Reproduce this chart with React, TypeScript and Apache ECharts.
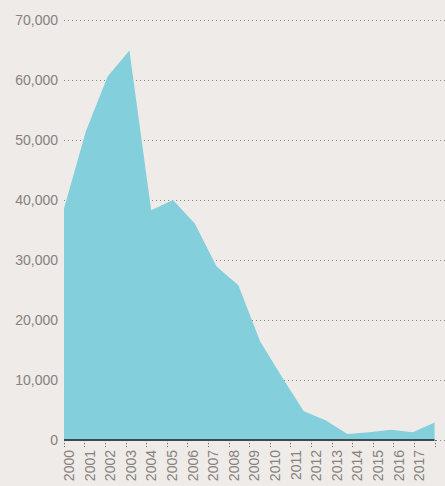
import React, { useEffect, useRef } from "react";
import * as echarts from "echarts";

const years = [2000, 2001, 2002, 2003, 2004, 2005, 2006, 2007, 2008, 2009, 2010, 2011, 2012, 2013, 2014, 2015, 2016, 2017];
const values = [38600, 51400, 60600, 64900, 38300, 40000, 36100, 28900, 25800, 16400, 10500, 4800, 3300, 1000, 1300, 1700, 1300, 2900];
const yTicks = [0, 10000, 20000, 30000, 40000, 50000, 60000, 70000];
const labelYears = years;

export default function App() {
  const ref = useRef<HTMLDivElement>(null);
  useEffect(() => {
    if (!ref.current) return;
    const chart = echarts.init(ref.current, null, { renderer: "svg" });
    const font = "'Liberation Sans', Arial, sans-serif";
    chart.setOption({
      animation: false,
      backgroundColor: "#efebe8",
      grid: { left: 64, right: 0, top: 20, bottom: 46, containLabel: false },
      xAxis: [
        {
          type: "value",
          min: 2000,
          max: 2017.48,
          show: false,
        },
        {
          type: "value",
          min: 2000,
          max: 2018.495,
          interval: 1,
          position: "bottom",
          axisLine: { show: true, lineStyle: { color: "rgba(0,0,0,0)" } },
          splitLine: { show: false },
          axisTick: {
            show: true,
            length: 7,
            lineStyle: { color: "#6a6765", width: 1, type: [1.2, 1.8] },
          },
          axisLabel: {
            show: true,
            rotate: 90,
            margin: 10,
            customValues: labelYears,
            formatter: (v: number) => String(v),
            color: "#86817e",
            fontSize: 14,
            fontFamily: font,
            verticalAlign: "top",
            lineHeight: 10,
          },
        },
      ],
      yAxis: {
        type: "value",
        min: 0,
        max: 70000,
        interval: 10000,
        axisLine: { show: false },
        axisTick: { show: false },
        axisLabel: {
          margin: 6,
          color: "#86817e",
          fontSize: 14,
          fontFamily: font,
          formatter: (v: number) => (yTicks.includes(v) ? v.toLocaleString("en-US") : ""),
        },
        splitLine: {
          show: true,
          lineStyle: { color: "#858585", width: 1, type: [1, 3] },
        },
      },
      series: [
        {
          type: "line",
          xAxisIndex: 0,
          data: years.map((y, i) => [y, values[i]]),
          symbol: "none",
          lineStyle: { width: 0 },
          areaStyle: { color: "#83cfdc", opacity: 1 },
          itemStyle: { color: "#83cfdc" },
          markLine: {
            silent: true,
            symbol: "none",
            label: { show: false },
            lineStyle: { color: "#3e4a4f", width: 2, type: "solid" },
            data: [[{ coord: [years[0], 0] }, { coord: [years[years.length - 1], 0] }]],
          },
          z: 2,
        },
      ],
    });
    return () => chart.dispose();
  }, []);
  return (
    <div
      ref={ref}
      style={{ position: "fixed", left: 0, top: 0, width: 445, height: 486 }}
    />
  );
}
